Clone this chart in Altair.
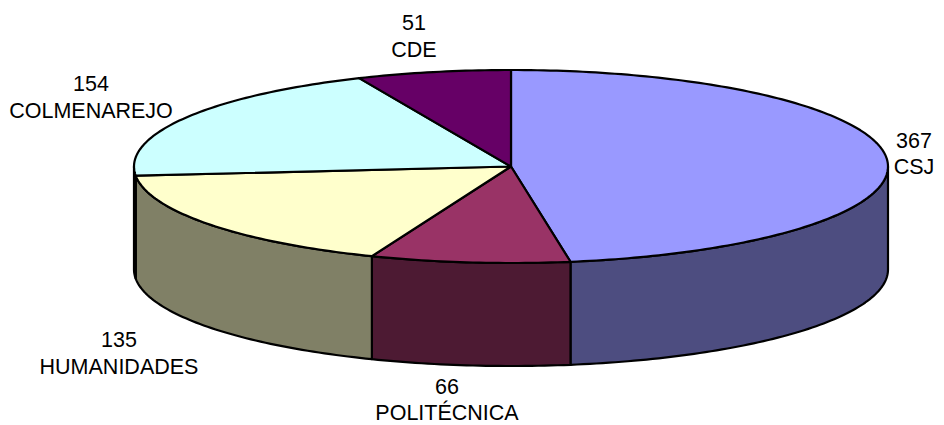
import math
import altair as alt
import pandas as pd

categories = ["CSJ", "POLITÉCNICA", "HUMANIDADES", "COLMENAREJO", "CDE"]
values = [367, 66, 135, 154, 51]
top_colors = ["#9999FF", "#993366", "#FFFFCC", "#CCFFFF", "#660066"]
side_colors = ["#4D4D80", "#4D1A33", "#808066", "#668080", "#330033"]
value_x = [914, 447, 119, 91, 414]
value_y = [142, 388, 341, 85, 24]
name_x = [914, 447, 119, 91, 414]
name_y = [168, 414, 368, 112, 51]

CX, CY, RX, RY, DEPTH = 511, 166.5, 377, 96.5, 103
W, H = 928, 417


def pt(deg, dy=0):
    a = math.radians(deg)
    return CX + RX * math.sin(a), CY - RY * math.cos(a) + dy


total = sum(values)
angles = [0]
for v in values:
    angles.append(angles[-1] + v / total * 360)

x_scale = alt.Scale(domain=[8, 8 + W], range=[0, W], nice=False, zero=False)
y_scale = alt.Scale(domain=[8, 8 + H], range=[0, H], nice=False, zero=False)


def face(points, color):
    df = pd.DataFrame([{"px": p[0], "py": p[1], "i": i} for i, p in enumerate(points)])
    return alt.Chart(df).mark_line(
        fill=color, stroke="black", strokeWidth=2.2, strokeJoin="round", clip=False
    ).encode(
        x=alt.X("px:Q", scale=x_scale, axis=None),
        y=alt.Y("py:Q", scale=y_scale, axis=None),
        order="i:Q",
    )


def arc(a0, a1, dy=0):
    n = max(2, int(abs(a1 - a0)) + 2)
    return [pt(a0 + (a1 - a0) * k / (n - 1), dy) for k in range(n)]


layers = []
for i in range(len(values)):
    a0, a1 = max(angles[i], 90), min(angles[i + 1], 270)
    if a1 > a0:
        ring = arc(a0, a1, 0) + arc(a1, a0, DEPTH)
        layers.append(face(ring + ring[:1], side_colors[i]))
for i in range(len(values)):
    wedge = [(CX, CY)] + arc(angles[i], angles[i + 1])
    layers.append(face(wedge + wedge[:1], top_colors[i]))

rows = []
for c, v, vx, vy, nx, ny in zip(categories, values, value_x, value_y, name_x, name_y):
    rows.append({"t": str(v), "lx": vx, "ly": vy})
    rows.append({"t": c, "lx": nx, "ly": ny})
labels = alt.Chart(pd.DataFrame(rows)).mark_text(
    font="Liberation Sans", fontSize=21.5, color="black", align="center", baseline="middle"
).encode(
    x=alt.X("lx:Q", scale=x_scale, axis=None),
    y=alt.Y("ly:Q", scale=y_scale, axis=None),
    text="t:N",
)
layers.append(labels)

chart = alt.layer(*layers).properties(
    width=W, height=H, padding=0, autosize=alt.AutoSizeParams(type="none"), background="white"
).configure_view(stroke=None)
chart.save("out.html", embed_options={"renderer": "svg", "actions": False})
